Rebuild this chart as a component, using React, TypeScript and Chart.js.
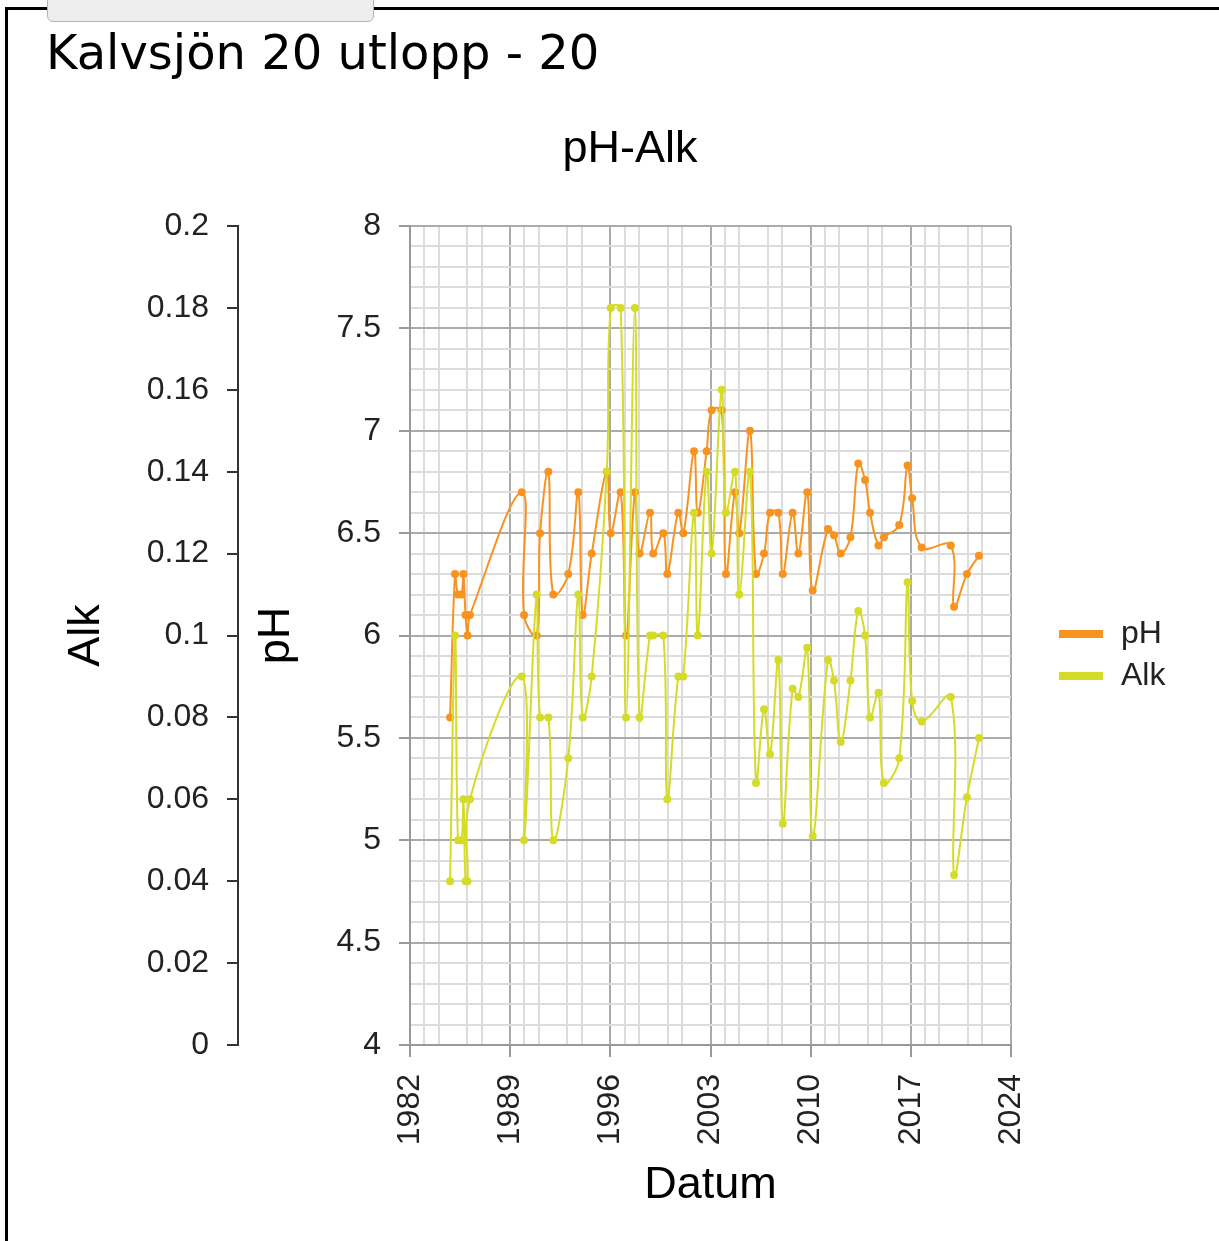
import React, { useEffect, useRef } from 'react';
import { Chart, registerables } from 'chart.js';

Chart.register(...registerables);

// ---- data ----
const sampleYears = [
  1984.8, 1985.15, 1985.35, 1985.6, 1985.73, 1985.88, 1986.02, 1986.19,
  1989.81, 1989.97, 1990.85, 1991.09, 1991.67, 1992.01, 1993.06, 1993.76,
  1994.07, 1994.7, 1995.75, 1996.03, 1996.72, 1997.1, 1997.72, 1998.04,
  1998.77, 1999.0, 1999.7, 1999.98, 2000.75, 2001.1, 2001.85, 2002.11,
  2002.73, 2003.08, 2003.78, 2004.08, 2004.71, 2005.01, 2005.76, 2006.18,
  2006.74, 2007.16, 2007.74, 2008.05, 2008.74, 2009.14, 2009.76, 2010.14,
  2011.21, 2011.63, 2012.1, 2012.78, 2013.33, 2013.8, 2014.15, 2014.74,
  2015.12, 2016.19, 2016.77, 2017.09, 2017.76, 2019.79, 2020.02, 2020.92,
  2021.76,
];

const phValues = [
  5.6, 6.3, 6.2, 6.2, 6.3, 6.1, 6.0, 6.1,
  6.7, 6.1, 6.0, 6.5, 6.8, 6.2, 6.3, 6.7,
  6.1, 6.4, 6.8, 6.5, 6.7, 6.0, 6.7, 6.4,
  6.6, 6.4, 6.5, 6.3, 6.6, 6.5, 6.9, 6.6,
  6.9, 7.1, 7.1, 6.3, 6.7, 6.5, 7.0, 6.3,
  6.4, 6.6, 6.6, 6.3, 6.6, 6.4, 6.7, 6.22,
  6.52, 6.49, 6.4, 6.48, 6.84, 6.76, 6.6, 6.44,
  6.48, 6.54, 6.83, 6.67, 6.43, 6.44, 6.14, 6.3,
  6.39,
];

const alkValues = [
  0.04, 0.1, 0.05, 0.05, 0.06, 0.04, 0.04, 0.06,
  0.09, 0.05, 0.11, 0.08, 0.08, 0.05, 0.07, 0.11,
  0.08, 0.09, 0.14, 0.18, 0.18, 0.08, 0.18, 0.08,
  0.1, 0.1, 0.1, 0.06, 0.09, 0.09, 0.13, 0.1,
  0.14, 0.12, 0.16, 0.13, 0.14, 0.11, 0.14, 0.064,
  0.082, 0.071, 0.094, 0.054, 0.087, 0.085, 0.097, 0.051,
  0.094, 0.089, 0.074, 0.089, 0.106, 0.1, 0.08, 0.086,
  0.064, 0.07, 0.113, 0.084, 0.079, 0.085, 0.0415, 0.0605,
  0.075,
];

const xTickYears = [1982, 1989, 1996, 2003, 2010, 2017, 2024];
const phTickLabels = ['4', '4.5', '5', '5.5', '6', '6.5', '7', '7.5', '8'];
const alkTickLabels = ['0', '0.02', '0.04', '0.06', '0.08', '0.1', '0.12', '0.14', '0.16', '0.18', '0.2'];
const seriesNames = ['pH', 'Alk'];

// ---- styles ----
const PH_COLOR = '#f7931e';
const ALK_COLOR = '#d4dc28';
const MAJOR_GRID = '#ababab';
const MINOR_GRID = '#dcdcdc';
const AXIS_GRAY = '#999999';
const TEXT = '#222222';
const FONT = '"Liberation Sans", Arial, sans-serif';

const isPhMajor = (v: number) => phTickLabels.some((l) => Math.abs(Number(l) - v) < 1e-6);
const isXMajor = (v: number) => xTickYears.some((y) => Math.abs(y - v) < 1e-6);

const sideLegend = {
  id: 'sideLegend',
  afterDraw(chart: any) {
    const { ctx, chartArea } = chart;
    const mid = (chartArea.top + chartArea.bottom) / 2;
    ctx.save();
    ctx.font = `32px ${FONT}`;
    ctx.textBaseline = 'middle';
    ctx.textAlign = 'left';
    chart.data.datasets.forEach((ds: any, i: number) => {
      const y = mid - 1.5 + i * 42;
      const x = chartArea.right + 48;
      ctx.fillStyle = ds.borderColor;
      ctx.fillRect(x, y - 4, 44, 8);
      ctx.fillStyle = TEXT;
      ctx.fillText(ds.label, x + 62, y);
    });
    ctx.restore();
  },
};

export default function App() {
  const ref = useRef<HTMLCanvasElement>(null);

  useEffect(() => {
    if (!ref.current) return;
    Chart.defaults.font.family = FONT;
    const chart = new Chart(ref.current, {
      type: 'line',
      data: {
        datasets: [
          {
            label: seriesNames[0],
            data: sampleYears.map((x, i) => ({ x, y: phValues[i] })),
            yAxisID: 'ph',
            borderColor: PH_COLOR,
            backgroundColor: PH_COLOR,
            borderWidth: 2,
            pointRadius: 4,
            pointBorderWidth: 0,
            pointBackgroundColor: PH_COLOR,
            tension: 0.4,
            order: 1,
          },
          {
            label: seriesNames[1],
            data: sampleYears.map((x, i) => ({ x, y: alkValues[i] })),
            yAxisID: 'alk',
            borderColor: ALK_COLOR,
            backgroundColor: ALK_COLOR,
            borderWidth: 2,
            pointRadius: 4,
            pointBorderWidth: 0,
            pointBackgroundColor: ALK_COLOR,
            tension: 0.4,
            order: 0,
          },
        ],
      },
      options: {
        responsive: false,
        animation: false,
        events: [],
        layout: { padding: { left: 41, right: 0, top: 0, bottom: 0 } },
        plugins: {
          legend: { display: false },
          tooltip: { enabled: false },
          title: {
            display: true,
            text: 'pH-Alk',
            color: '#000',
            font: { size: 45, weight: 'normal', family: FONT, lineHeight: 1.2 },
            padding: { top: 123, bottom: 49 },
          },
        },
        scales: {
          x: {
            type: 'linear',
            position: 'bottom',
            min: 1982,
            max: 2024,
            afterBuildTicks: (scale: any) => {
              const ticks: { value: number }[] = [];
              for (let y = xTickYears[0]; y <= xTickYears[xTickYears.length - 1]; y++) {
                const r = (y - xTickYears[0]) % 7;
                if (r === 0 || r === 1 || r === 2 || r === 4 || r === 5) ticks.push({ value: y });
              }
              scale.ticks = ticks;
            },
            afterFit: (scale: any) => {
              scale.height = 196;
            },
            ticks: {
              autoSkip: false,
              minRotation: 90,
              maxRotation: 90,
              padding: 17,
              color: TEXT,
              font: { size: 32 },
              callback: (v: any) => (isXMajor(Number(v)) ? String(v) : ''),
            },
            grid: {
              lineWidth: 2,
              tickLength: 12,
              color: (c: any) => (c.tick && isXMajor(c.tick.value) ? MAJOR_GRID : MINOR_GRID),
              tickColor: (c: any) => (c.tick && isXMajor(c.tick.value) ? AXIS_GRAY : 'rgba(0,0,0,0)'),
            },
            border: { display: true, color: AXIS_GRAY, width: 2 },
            title: {
              display: true,
              text: 'Datum',
              color: '#000',
              font: { size: 45, lineHeight: 1.2 },
              padding: { top: 0, bottom: 28 },
            },
          },
          ph: {
            type: 'linear',
            position: 'left',
            weight: 0,
            min: 4,
            max: 8,
            afterBuildTicks: (scale: any) => {
              const ticks: { value: number }[] = [];
              for (let i = 0; i <= 40; i++) ticks.push({ value: Math.round((4 + i * 0.1) * 10) / 10 });
              scale.ticks = ticks;
            },
            afterFit: (scale: any) => {
              scale.width = 172;
            },
            ticks: {
              autoSkip: false,
              padding: 18,
              color: TEXT,
              font: { size: 32 },
              callback: (v: any) => {
                const n = Number(v);
                const lab = phTickLabels.find((l) => Math.abs(Number(l) - n) < 1e-6);
                return lab ?? '';
              },
            },
            grid: {
              lineWidth: 2,
              tickLength: 11,
              color: (c: any) => (c.tick && isPhMajor(c.tick.value) ? MAJOR_GRID : MINOR_GRID),
              tickColor: (c: any) => (c.tick && isPhMajor(c.tick.value) ? AXIS_GRAY : 'rgba(0,0,0,0)'),
            },
            border: { display: true, color: AXIS_GRAY, width: 2 },
            title: {
              display: true,
              text: 'pH',
              color: '#000',
              font: { size: 45, lineHeight: 1.2 },
              padding: { top: 12, bottom: 0 },
            },
          },
          alk: {
            type: 'linear',
            position: 'left',
            weight: 1,
            min: 0,
            max: 0.2,
            afterBuildTicks: (scale: any) => {
              scale.ticks = alkTickLabels.map((l) => ({ value: Number(l) }));
            },
            afterFit: (scale: any) => {
              scale.width = 197;
            },
            ticks: {
              autoSkip: false,
              padding: 18,
              color: TEXT,
              font: { size: 32 },
              callback: (v: any) => {
                const n = Number(v);
                const lab = alkTickLabels.find((l) => Math.abs(Number(l) - n) < 1e-9);
                return lab ?? '';
              },
            },
            grid: {
              drawOnChartArea: false,
              drawTicks: true,
              lineWidth: 2,
              tickLength: 11,
              tickColor: '#333333',
            },
            border: { display: true, color: '#333333', width: 2 },
            title: {
              display: true,
              text: 'Alk',
              color: '#000',
              font: { size: 45, lineHeight: 1.2 },
              padding: { top: 19, bottom: 0 },
            },
          },
          legendSpace: {
            type: 'linear',
            position: 'right',
            display: true,
            afterFit: (scale: any) => {
              scale.width = 208;
            },
            ticks: { display: false },
            grid: { display: false, drawOnChartArea: false, drawTicks: false },
            border: { display: false },
            title: { display: false },
          },
        },
      },
      plugins: [sideLegend],
    } as any);
    return () => chart.destroy();
  }, []);

  return (
    <div
      style={{
        position: 'fixed',
        left: 0,
        top: 0,
        width: 1219,
        height: 1241,
        overflow: 'hidden',
        background: '#fff',
      }}
    >
      <div
        style={{
          position: 'absolute',
          left: 5,
          top: 7,
          width: 1400,
          height: 1400,
          borderLeft: '3px solid #000',
          borderTop: '3px solid #000',
        }}
      />
      <canvas
        ref={ref}
        width={1219}
        height={1241}
        style={{ position: 'absolute', left: 0, top: 0, width: 1219, height: 1241 }}
      />
      <div
        style={{
          position: 'absolute',
          left: 47,
          top: 28,
          width: 327,
          height: 34,
          marginTop: -40,
          background: '#ededed',
          border: '1px solid #b5b5b5',
          borderRadius: 6,
          boxSizing: 'border-box',
        }}
      />
      <div
        style={{
          position: 'absolute',
          left: 46,
          top: 29,
          fontFamily: '"DejaVu Sans", Verdana, sans-serif',
          fontSize: 48,
          lineHeight: '47px',
          color: '#000',
          whiteSpace: 'nowrap',
        }}
      >
        Kalvsjön 20 utlopp - 20
      </div>
    </div>
  );
}
